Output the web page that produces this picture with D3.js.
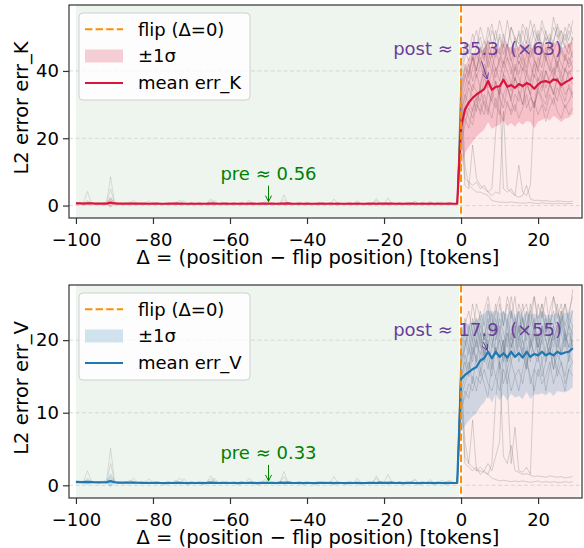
<!DOCTYPE html>
<html>
<head>
<meta charset="utf-8">
<script src="https://cdn.jsdelivr.net/npm/d3@7"></script>
<style>
  body { margin: 0; background: #fff; }
  svg text { font-family: "DejaVu Sans", sans-serif; }
</style>
</head>
<body>
<div id="chart"></div>
<script>
const WIDTH = 584;
const HEIGHT = 548;

// x positions (tokens relative to flip)
const deltaTicks = [-100, -80, -60, -40, -20, 0, 20];
const kTicks = [0, 20, 40];
const vTicks = [0, 10, 20];

// ---------- err_K ----------
const meanKPre = [
  0.64,0.62,0.60,0.68,0.62,0.58,0.57,0.60,0.59,0.86,
  0.62,0.58,0.55,0.57,0.56,0.60,0.58,0.55,0.56,0.54,
  0.55,0.57,0.54,0.53,0.55,0.56,0.58,0.55,0.54,0.53,
  0.55,0.54,0.56,0.53,0.55,0.60,0.56,0.54,0.58,0.55,
  0.54,0.56,0.53,0.55,0.54,0.57,0.55,0.53,0.56,0.55,
  0.57,0.56,0.54,0.58,0.55,0.62,0.56,0.54,0.55,0.53,
  0.55,0.54,0.53,0.56,0.55,0.54,0.56,0.53,0.55,0.54,
  0.53,0.55,0.54,0.56,0.53,0.54,0.55,0.57,0.54,0.58,
  0.56,0.55,0.60,0.54,0.55,0.53,0.56,0.55,0.54,0.53,
  0.55,0.54,0.56,0.53,0.55,0.54,0.53,0.55,0.54,0.56];
const meanKPost = [23.5,28.5,30.6,32.0,33.0,33.8,34.6,37.0,34.4,35.3,
  35.4,37.4,35.3,35.8,35.0,36.1,35.5,36.4,35.9,34.7,
  36.0,36.8,37.0,36.5,37.5,37.2,35.8,36.6,37.2,38.0];
const stdKPre = [
  0.25,0.24,0.28,0.60,0.26,0.22,0.20,0.24,0.32,1.50,
  0.30,0.22,0.20,0.21,0.22,0.24,0.20,0.21,0.20,0.22,
  0.20,0.21,0.20,0.19,0.21,0.20,0.22,0.30,0.21,0.20,
  0.21,0.20,0.19,0.21,0.20,0.32,0.22,0.20,0.21,0.20,
  0.19,0.21,0.20,0.22,0.21,0.26,0.20,0.21,0.19,0.24,
  0.21,0.20,0.19,0.21,0.40,0.22,0.20,0.21,0.19,0.20,
  0.21,0.20,0.19,0.20,0.21,0.22,0.20,0.30,0.21,0.20,
  0.19,0.21,0.20,0.26,0.21,0.20,0.21,0.19,0.34,0.21,
  0.20,0.30,0.21,0.20,0.22,0.20,0.19,0.21,0.26,0.20,
  0.19,0.21,0.20,0.19,0.21,0.22,0.20,0.21,0.20,0.19];
const stdKPost = [13.0,12.8,13.2,13.0,12.5,12.2,12.0,12.2,11.6,11.8,
  11.4,12.0,11.7,11.3,11.6,11.2,11.5,11.3,11.1,11.7,
  11.0,11.4,10.9,11.2,10.8,11.3,11.0,10.7,11.1,10.8];

// individual sequences, delta -100..-1
const grayKPre = [
  [0.6,0.7,0.9,4.2,0.8,0.6,0.5,0.7,1.2,8.6,
   0.9,0.6,0.5,0.6,1.1,0.7,0.5,0.6,0.5,0.7,
   0.5,0.6,0.5,0.4,0.6,0.5,0.7,1.6,0.8,0.5,
   0.6,0.5,0.4,0.6,0.5,1.4,0.7,0.5,0.6,0.5,
   0.4,0.6,0.5,0.7,0.6,0.5,0.4,0.6,0.5,1.2,
   0.6,0.5,0.4,0.6,3.2,0.7,0.5,0.6,0.4,0.5,
   0.6,0.5,0.4,0.5,0.6,0.7,0.5,1.9,0.6,0.5,
   0.4,0.6,0.5,0.4,0.6,0.5,0.6,0.4,2.1,0.6,
   0.5,0.4,0.6,0.5,0.7,0.5,0.4,0.6,1.3,0.5,
   0.4,0.6,0.5,0.4,0.6,0.5,0.7,1.0,0.6,0.5],
  [0.5,0.6,0.5,0.7,0.6,0.5,0.8,0.6,0.5,2.4,
   0.7,0.5,0.6,0.5,0.6,1.5,0.6,0.5,0.6,1.3,
   0.5,0.6,0.4,0.5,0.6,0.5,0.6,0.5,1.4,0.6,
   0.5,0.4,0.6,0.5,0.6,2.0,0.9,0.6,0.5,0.6,
   0.5,0.6,0.4,0.5,0.6,1.6,0.5,0.6,0.4,0.5,
   0.6,0.5,0.4,0.6,1.8,0.5,0.6,0.5,0.4,0.6,
   0.5,0.6,0.5,0.4,0.6,0.5,0.6,0.5,0.4,0.6,
   0.5,0.6,0.4,1.5,0.6,0.5,0.4,0.6,0.5,0.6,
   0.5,2.3,0.6,0.5,0.4,0.6,0.5,0.6,1.2,0.5,
   0.6,0.4,0.5,0.6,0.5,1.1,0.6,0.5,0.4,0.5],
  [0.7,0.8,0.6,1.5,0.7,0.6,0.7,0.5,0.6,5.0,
   0.8,0.6,0.5,0.7,0.6,0.5,0.6,0.7,0.5,0.6,
   0.5,0.7,0.6,0.5,0.4,0.6,1.1,0.5,0.6,0.5,
   0.4,0.6,0.5,0.7,0.6,0.5,1.5,0.6,0.5,0.4,
   0.6,0.5,0.6,0.4,0.5,0.6,0.5,0.4,0.6,0.5,
   0.6,0.5,0.4,0.6,0.5,0.6,0.5,0.4,0.6,0.5,
   0.4,0.6,0.5,0.6,0.4,0.5,0.6,0.5,0.4,0.6,
   0.5,0.4,0.6,0.5,0.6,0.4,0.5,0.6,1.5,0.5,
   0.6,0.4,0.5,0.6,0.5,0.4,0.6,0.5,0.4,0.6,
   0.5,0.6,1.2,0.5,0.4,0.6,0.5,0.4,0.6,0.5]
];
// individual sequences, delta -1..29
const grayKPost = [
  [0.6,35,41,38,45,40,47,43,49,44,46,50,45,48,43,47,51,46,49,44,48,52,47,50,46,49,53,48,51,47,50],
  [0.5,28,33,30,36,34,31,38,35,40,36,33,39,37,34,41,38,35,39,36,42,37,40,35,38,41,37,39,36,40,38],
  [0.4,22,27,31,28,33,30,27,34,31,29,35,32,30,28,33,31,36,29,32,30,34,31,28,33,30,35,32,29,31,34],
  [0.5,40,46,43,48,52,47,44,50,54,48,45,51,47,53,49,46,52,48,55,50,47,53,49,51,48,54,50,47,52,49],
  [0.6,18,24,29,26,31,35,30,27,33,37,32,29,35,31,38,34,30,36,33,29,35,38,32,36,34,31,37,33,35,32],
  [0.5,32,38,42,37,41,44,39,46,42,38,44,41,47,43,40,45,42,39,46,43,41,47,44,40,45,42,46,43,48,44],
  [0.4,26,30,35,32,28,36,40,34,31,37,33,39,35,32,38,35,41,37,33,39,36,34,40,37,33,38,35,41,38,36],
  [0.5,36,42,39,44,40,46,49,43,47,52,46,42,48,45,50,44,47,53,48,45,51,47,44,50,46,49,52,47,45,50],
  [0.6,20,26,23,29,32,27,31,28,34,30,27,33,36,31,28,34,30,37,33,29,35,32,30,36,33,38,34,31,36,33],
  [0.5,30,35,40,44,38,42,47,41,45,40,43,48,44,39,46,42,45,41,47,44,40,46,43,49,45,41,47,44,42,46],
  [0.5,24,29,26,24,30,28,33,29,26,32,28,25,31,27,30,26,29,33,28,31,27,30,25,29,32,28,26,30,27,29],
  [0.4,38,44,48,43,47,50,45,53,48,44,51,47,55,49,46,52,48,45,50,54,49,46,52,48,56,51,47,53,49,55],
  [0.5,34,39,36,41,45,42,38,43,40,46,42,39,44,41,37,43,40,45,42,38,44,41,47,43,39,45,42,40,44,41],
  [0.6,27,32,37,34,39,35,42,38,35,41,37,43,40,36,42,39,44,40,37,43,40,38,44,41,38,43,39,45,41,43],
  [0.4,42,48,45,51,47,53,49,46,52,49,55,50,47,53,50,48,54,51,47,52,49,55,51,48,53,50,52,49,54,51],
  [0.5,38,12,6,5,4,4,3.5,3,1.5,1.2,1.0,1.0,0.9,1.1,0.9,0.8,0.7,0.8,0.9,0.7,0.6,0.8,0.7,0.6,0.5,0.7,0.6,0.5,0.6,0.6],
  [0.5,30,8,7,6,7,5,6,4,5,22,35,5,4,5,3,12,4,3,6,30,38,35,40,36,38,42,37,40,39,41],
  [0.5,25,6,5,18,8,6,5,4,3,4,3.5,28,5,4,3,2.5,3,6,2,1.5,1.6,1.4,1.5,1.3,1.2,1.4,1.3,1.2,1.1,1.3]
];

// ---------- err_V ----------
const meanVPre = [
  0.46,0.45,0.44,0.47,0.44,0.42,0.41,0.42,0.43,0.58,
  0.42,0.38,0.36,0.37,0.36,0.38,0.35,0.34,0.33,0.32,
  0.33,0.34,0.32,0.31,0.33,0.32,0.34,0.33,0.32,0.31,
  0.33,0.32,0.34,0.31,0.33,0.37,0.34,0.32,0.35,0.33,
  0.32,0.34,0.31,0.33,0.32,0.35,0.33,0.31,0.34,0.33,
  0.35,0.34,0.32,0.36,0.33,0.38,0.34,0.32,0.33,0.31,
  0.33,0.32,0.31,0.34,0.33,0.32,0.34,0.31,0.33,0.32,
  0.31,0.33,0.32,0.34,0.31,0.32,0.33,0.35,0.32,0.36,
  0.34,0.33,0.37,0.32,0.33,0.31,0.34,0.33,0.32,0.31,
  0.33,0.32,0.34,0.31,0.33,0.32,0.31,0.33,0.32,0.34];
const meanVPost = [14.6,15.2,15.6,16.0,16.3,17.2,17.5,18.4,17.5,18.4,
  17.7,18.2,17.6,18.4,17.7,18.2,17.6,18.4,17.7,18.1,
  17.9,18.4,17.9,18.2,17.9,18.4,18.1,18.3,18.4,18.9];
const stdVPre = [
  0.15,0.14,0.16,0.35,0.15,0.13,0.12,0.14,0.20,0.85,
  0.16,0.12,0.11,0.12,0.12,0.13,0.11,0.12,0.11,0.12,
  0.11,0.12,0.11,0.10,0.12,0.11,0.12,0.18,0.12,0.11,
  0.12,0.11,0.10,0.12,0.11,0.18,0.12,0.11,0.12,0.11,
  0.10,0.12,0.11,0.12,0.12,0.15,0.11,0.12,0.10,0.14,
  0.12,0.11,0.10,0.12,0.24,0.12,0.11,0.12,0.10,0.11,
  0.12,0.11,0.10,0.11,0.12,0.12,0.11,0.17,0.12,0.11,
  0.10,0.12,0.11,0.15,0.12,0.11,0.12,0.10,0.19,0.12,
  0.11,0.17,0.12,0.11,0.12,0.11,0.10,0.12,0.15,0.11,
  0.10,0.12,0.11,0.10,0.12,0.12,0.11,0.12,0.11,0.10];
const stdVPost = [7.2,7.0,6.7,6.5,6.4,6.3,6.1,5.9,6.1,5.8,
  6.0,5.7,5.9,5.8,5.6,5.9,5.7,5.5,5.8,5.6,
  5.4,5.7,5.5,5.3,5.6,5.4,5.2,5.5,5.3,5.4];

const grayVPre = [
  [0.4,0.5,0.6,2.0,0.6,0.4,0.3,0.5,0.8,5.1,
   0.6,0.4,0.3,0.4,0.7,0.5,0.3,0.4,0.3,0.5,
   0.3,0.4,0.3,0.2,0.4,0.3,0.5,1.0,0.5,0.3,
   0.4,0.3,0.2,0.4,0.3,0.9,0.5,0.3,0.4,0.3,
   0.2,0.4,0.3,0.5,0.4,0.3,0.2,0.4,0.3,0.8,
   0.4,0.3,0.2,0.4,1.9,0.5,0.3,0.4,0.2,0.3,
   0.4,0.3,0.2,0.3,0.4,0.5,0.3,1.2,0.4,0.3,
   0.2,0.4,0.3,0.2,0.4,0.3,0.4,0.2,1.3,0.4,
   0.3,0.2,0.4,0.3,0.5,0.3,0.2,0.4,0.8,0.3,
   0.2,0.4,0.3,0.2,0.4,0.3,0.5,0.7,0.4,0.3],
  [0.3,0.4,0.3,0.5,0.4,0.3,0.5,0.4,0.3,1.6,
   0.5,0.3,0.4,0.3,0.4,1.0,0.4,0.3,0.4,0.9,
   0.3,0.4,0.2,0.3,0.4,0.3,0.4,0.3,0.9,0.4,
   0.3,0.2,0.4,0.3,0.4,1.3,0.6,0.4,0.3,0.4,
   0.3,0.4,0.2,0.3,0.4,1.0,0.3,0.4,0.2,0.3,
   0.4,0.3,0.2,0.4,1.2,0.3,0.4,0.3,0.2,0.4,
   0.3,0.4,0.3,0.2,0.4,0.3,0.4,0.3,0.2,0.4,
   0.3,0.4,0.2,1.0,0.4,0.3,0.2,0.4,0.3,0.4,
   0.3,1.5,0.4,0.3,0.2,0.4,0.3,0.4,0.8,0.3,
   0.4,0.2,0.3,0.4,0.3,0.7,0.4,0.3,0.2,0.3],
  [0.5,0.6,0.4,1.0,0.5,0.4,0.5,0.3,0.4,3.0,
   0.6,0.4,0.3,0.5,0.4,0.3,0.4,0.5,0.3,0.4,
   0.3,0.5,0.4,0.3,0.2,0.4,0.7,0.3,0.4,0.3,
   0.2,0.4,0.3,0.5,0.4,0.3,1.0,0.4,0.3,0.2,
   0.4,0.3,0.4,0.2,0.3,0.4,0.3,0.2,0.4,0.3,
   0.4,0.3,0.2,0.4,0.3,0.4,0.3,0.2,0.4,0.3,
   0.2,0.4,0.3,0.4,0.2,0.3,0.4,0.3,0.2,0.4,
   0.3,0.2,0.4,0.3,0.4,0.2,0.3,0.4,1.0,0.3,
   0.4,0.2,0.3,0.4,0.3,0.2,0.4,0.3,0.2,0.4,
   0.3,0.4,0.8,0.3,0.2,0.4,0.3,0.2,0.4,0.3]
];
const grayVPost = [
  [0.3,18,21,19,23,20,24,22,25,21,24,26,22,25,23,26,21,24,25,22,26,23,25,21,24,26,23,25,22,24,26],
  [0.4,13,15,17,14,18,16,19,17,15,19,17,20,16,18,21,17,19,16,20,18,17,21,18,19,16,20,18,21,19,20],
  [0.3,10,13,12,15,13,16,14,12,17,15,13,16,14,17,15,13,16,18,14,16,15,17,13,16,18,15,17,14,16,17],
  [0.3,16,19,22,20,23,21,18,22,24,20,23,21,19,24,22,20,23,21,25,22,20,24,21,23,20,22,24,21,23,22],
  [0.4,20,23,21,25,22,19,24,26,23,21,25,22,26,24,21,25,23,20,24,26,22,25,23,21,26,24,22,25,23,27],
  [0.3,12,14,16,19,17,15,18,20,17,19,16,18,21,17,19,22,18,16,20,18,21,17,19,20,18,16,19,21,18,20],
  [0.3,15,17,15,18,20,17,21,18,16,20,22,19,17,21,18,20,23,19,17,21,19,22,20,18,21,19,23,20,22,19],
  [0.4,17,20,18,21,19,22,20,23,20,18,21,19,23,20,22,19,21,24,20,22,19,21,23,20,22,25,21,19,22,21],
  [0.3,11,12,14,13,15,14,16,14,13,15,17,14,16,13,15,16,14,17,15,13,16,14,15,17,14,16,15,13,16,15],
  [0.3,19,22,24,21,25,23,20,24,22,25,21,24,22,26,23,21,25,22,24,21,25,23,26,22,24,21,23,25,22,24],
  [0.4,14,18,16,20,17,21,18,16,19,22,18,20,17,19,21,18,20,17,19,22,18,20,17,21,19,22,18,20,17,21],
  [0.3,17,19,21,18,22,20,17,21,19,23,20,18,22,19,21,24,20,18,21,23,19,22,20,18,22,20,24,21,19,22],
  [0.4,15,16,19,17,20,18,21,19,22,18,20,17,21,19,23,20,18,22,19,21,18,20,22,19,21,18,22,20,21,19],
  [0.3,16,6,3,2.5,2,2,1.8,1.5,1.0,0.8,0.6,0.7,0.6,0.5,0.6,0.5,0.6,0.5,0.4,0.5,0.6,0.4,0.5,0.4,0.5,0.4,0.4,0.5,0.4,0.5],
  [0.3,14,4,3,9,2,2.5,2,1.5,3,12,17,4,3,5.5,2,1.8,1.5,1.6,1.4,1.2,1.3,1.2,1.1,1.3,1.2,1.1,1.2,1.0,1.1,1.2],
  [0.3,12,3,2.5,2,2.5,1.5,2,3,2,4,6,19,14,3,8,2,1.8,2.5,1.5,16,18,15,17,19,16,18,17,15,18,17]
];

// summary numbers shown in annotations
const preK = 0.56, postK = 35.3, countK = 63;
const preV = 0.33, postV = 17.9, countV = 55;

const deltaPre = d3.range(-100, 0);
const deltaPost = d3.range(-1, 30);
const deltaAll = d3.range(-100, 30);

const X_LEFT = 69;
const X_RIGHT = 582;
const FONT = 18;
const LABEL_FONT = 19.5;

const svg = d3
  .select("#chart")
  .append("svg")
  .attr("width", WIDTH)
  .attr("height", HEIGHT);

const x = d3.scaleLinear().domain([-101.8, 31.4]).range([X_LEFT, X_RIGHT]);

function arrow(g, x1, y1, x2, y2, color) {
  g.append("line")
    .attr("x1", x1).attr("y1", y1).attr("x2", x2).attr("y2", y2)
    .style("stroke", color)
    .style("stroke-width", 1);
  const a = Math.atan2(y2 - y1, x2 - x1);
  const len = 6, hw = 3;
  const bx = x2 - len * Math.cos(a), by = y2 - len * Math.sin(a);
  const px = -Math.sin(a) * hw, py = Math.cos(a) * hw;
  g.append("path")
    .attr("d", `M${bx + px},${by + py}L${x2},${y2}L${bx - px},${by - py}`)
    .style("fill", "none")
    .style("stroke", color)
    .style("stroke-width", 1);
}

function drawPanel(cfg) {
  const y = d3.scaleLinear().domain(cfg.yDomain).range([cfg.bottom, cfg.top]);
  const g = svg.append("g");
  const clipId = "clip-" + cfg.name;

  g.append("clipPath")
    .attr("id", clipId)
    .append("rect")
    .attr("x", X_LEFT)
    .attr("y", cfg.top)
    .attr("width", X_RIGHT - X_LEFT)
    .attr("height", cfg.bottom - cfg.top);

  const plot = g.append("g").attr("clip-path", `url(#${clipId})`);

  // pre / post shading
  plot.append("rect")
    .attr("x", x(-100))
    .attr("y", cfg.top)
    .attr("width", x(-0.5) - x(-100))
    .attr("height", cfg.bottom - cfg.top)
    .style("fill", "#eef5ee");
  plot.append("rect")
    .attr("x", x(0.5))
    .attr("y", cfg.top)
    .attr("width", x(30.8) - x(0.5))
    .attr("height", cfg.bottom - cfg.top)
    .style("fill", "#fdeded");

  // grid
  plot.selectAll(".grid")
    .data(cfg.ticks)
    .enter()
    .append("line")
    .attr("x1", X_LEFT)
    .attr("x2", X_RIGHT)
    .attr("y1", (d) => y(d))
    .attr("y2", (d) => y(d))
    .style("stroke", "#cfcfcf")
    .style("stroke-width", 0.8)
    .style("stroke-dasharray", "4,2.5");

  // individual sequences
  const line = (xs) => d3.line().x((d, i) => x(xs[i])).y((d) => y(d));
  cfg.grayPre.forEach((s) => {
    plot.append("path")
      .attr("d", line(deltaPre)(s))
      .style("fill", "none")
      .style("stroke", "#808080")
      .style("stroke-opacity", 0.3)
      .style("stroke-width", 0.8);
  });
  cfg.grayPost.forEach((s) => {
    plot.append("path")
      .attr("d", line(deltaPost)(s))
      .style("fill", "none")
      .style("stroke", "#707070")
      .style("stroke-opacity", 0.33)
      .style("stroke-width", 0.85);
  });

  // band + mean
  const mean = cfg.meanPre.concat(cfg.meanPost);
  const std = cfg.stdPre.concat(cfg.stdPost);
  const band = d3.area()
    .x((d, i) => x(deltaAll[i]))
    .y0((d, i) => y(d - std[i]))
    .y1((d, i) => y(d + std[i]));
  plot.append("path")
    .attr("d", band(mean))
    .style("fill", cfg.color)
    .style("fill-opacity", 0.2);
  plot.append("path")
    .attr("d", line(deltaAll)(mean))
    .style("fill", "none")
    .style("stroke", cfg.color)
    .style("stroke-width", 2.2)
    .style("stroke-linejoin", "round");

  // flip line
  plot.append("line")
    .attr("x1", x(0)).attr("x2", x(0))
    .attr("y1", cfg.top).attr("y2", cfg.bottom)
    .style("stroke", "darkorange")
    .style("stroke-width", 2)
    .style("stroke-dasharray", "7.4,3.2");

  // axes
  const yAxis = g.append("g")
    .attr("transform", `translate(${X_LEFT},0)`)
    .call(d3.axisLeft(y).tickValues(cfg.ticks).tickSize(6).tickPadding(4));
  const xAxis = g.append("g")
    .attr("transform", `translate(0,${cfg.bottom})`)
    .call(d3.axisBottom(x).tickValues(deltaTicks).tickSize(6).tickPadding(9));
  [xAxis, yAxis].forEach((a) => {
    a.select(".domain").remove();
    a.selectAll("line").style("stroke", "#333").style("stroke-width", 1.2);
    a.selectAll("text")
      .style("font-size", FONT + "px")
      .style("fill", "#000")
      .style("font-family", "DejaVu Sans");
  });

  g.append("rect")
    .attr("x", X_LEFT)
    .attr("y", cfg.top)
    .attr("width", X_RIGHT - X_LEFT)
    .attr("height", cfg.bottom - cfg.top)
    .style("fill", "none")
    .style("stroke", "#333")
    .style("stroke-width", 1.2);

  g.append("text")
    .attr("x", 318)
    .attr("y", cfg.bottom + 46)
    .attr("text-anchor", "middle")
    .style("font-size", LABEL_FONT + "px")
    .text("Δ = (position − flip position) [tokens]");
  g.append("text")
    .attr("transform", `translate(28,${cfg.top + 103}) rotate(-90)`)
    .attr("text-anchor", "middle")
    .style("font-size", LABEL_FONT + "px")
    .text("L2 error " + cfg.label);

  // annotations
  const preX = x(-50), preY = y(cfg.pre);
  g.append("text")
    .attr("x", preX)
    .attr("y", preY - 30)
    .attr("dy", "0.35em")
    .attr("text-anchor", "middle")
    .style("font-size", FONT + "px")
    .style("fill", "green")
    .text(`pre ≈ ${cfg.pre.toFixed(2)}`);
  arrow(g, preX, preY - 18, preX, preY - 2, "green");

  const tx = x(7), ty = y(cfg.meanPost[7]);
  const cx = x(4.3), cy = y(cfg.postTextY);
  g.append("text")
    .attr("x", cx)
    .attr("y", cy)
    .attr("dy", "0.35em")
    .attr("text-anchor", "middle")
    .style("font-size", FONT + "px")
    .style("fill", "#6a3d9a")
    .text(`post ≈ ${cfg.post.toFixed(1)}\u00a0\u00a0(×${cfg.count})`);
  const t0 = 12 / (ty - cy);
  arrow(g, cx + (tx - cx) * t0, cy + 12, tx - (tx - cx) * 0.06, ty - (ty - cy) * 0.06, "#6a3d9a");

  // legend
  const lg = g.append("g").attr("transform", `translate(79,${cfg.top + 8})`);
  lg.append("rect")
    .attr("width", 171)
    .attr("height", 87)
    .attr("rx", 4)
    .style("fill", "#fff")
    .style("fill-opacity", 0.8)
    .style("stroke", "#d0d0d0");
  lg.append("line")
    .attr("x1", 6).attr("x2", 44).attr("y1", 16.3).attr("y2", 16.3)
    .style("stroke", "darkorange")
    .style("stroke-width", 2)
    .style("stroke-dasharray", "7.4,3.2");
  lg.append("rect")
    .attr("x", 6).attr("y", 36.5).attr("width", 38).attr("height", 13)
    .style("fill", cfg.color)
    .style("fill-opacity", 0.2);
  lg.append("line")
    .attr("x1", 6).attr("x2", 44).attr("y1", 70).attr("y2", 70)
    .style("stroke", cfg.color)
    .style("stroke-width", 2.2);
  const labels = ["flip (Δ=0)", "±1σ", "mean " + cfg.label];
  lg.selectAll(".lt")
    .data(labels)
    .enter()
    .append("text")
    .attr("x", 59)
    .attr("y", (d, i) => [16.3, 43, 70][i])
    .attr("dy", "0.35em")
    .style("font-size", FONT + "px")
    .text((d) => d);
}

drawPanel({
  name: "k",
  label: "err_K",
  top: 5,
  bottom: 218,
  yDomain: [-3.7, 59.6],
  ticks: kTicks,
  color: "crimson",
  meanPre: meanKPre,
  meanPost: meanKPost,
  stdPre: stdKPre,
  stdPost: stdKPost,
  grayPre: grayKPre,
  grayPost: grayKPost,
  pre: preK,
  post: postK,
  count: countK,
  postTextY: 46.5,
});

drawPanel({
  name: "v",
  label: "err_V",
  top: 285,
  bottom: 498,
  yDomain: [-1.75, 27.6],
  ticks: vTicks,
  color: "#1f77b4",
  meanPre: meanVPre,
  meanPost: meanVPost,
  stdPre: stdVPre,
  stdPost: stdVPost,
  grayPre: grayVPre,
  grayPost: grayVPost,
  pre: preV,
  post: postV,
  count: countV,
  postTextY: 21.4,
});
</script>
</body>
</html>
